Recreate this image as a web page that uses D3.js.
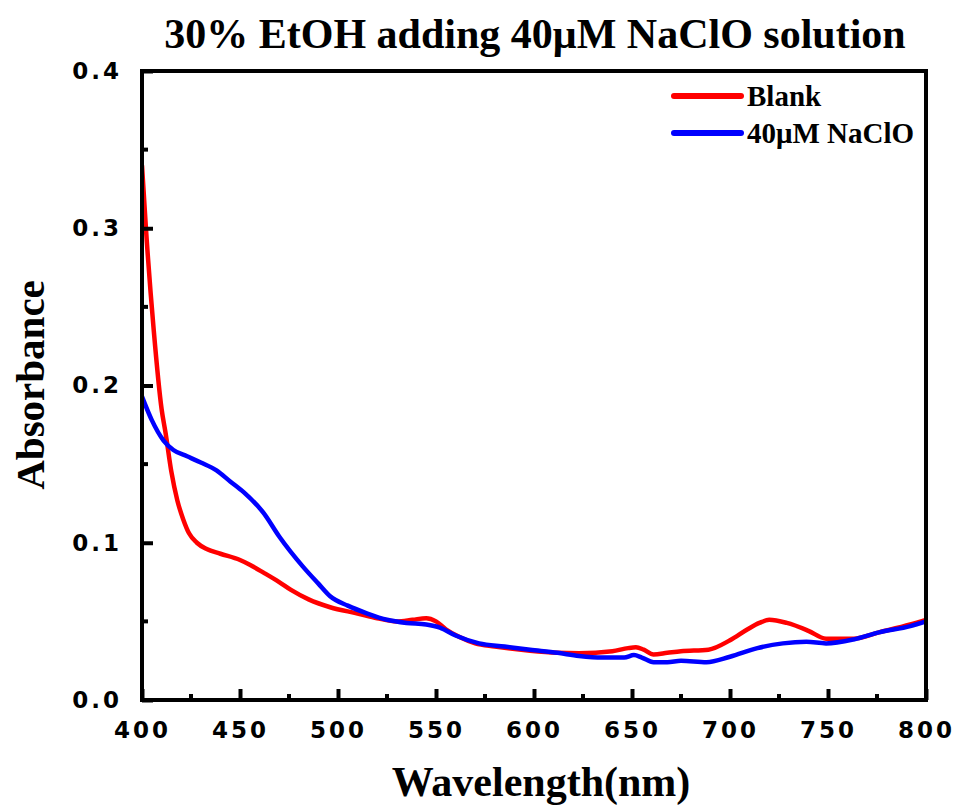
<!DOCTYPE html>
<html>
<head>
<meta charset="utf-8">
<script src="https://cdn.jsdelivr.net/npm/d3@7"></script>
<style>
  body { margin: 0; background: #fff; }
  .tick text { font-family: "DejaVu Sans", sans-serif; font-weight: bold; }
</style>
</head>
<body>
<div id="chart"></div>
<script>
// Spectrum readings (wavelength nm, absorbance)
var blankWl = [400, 402, 406, 410, 412, 415, 418, 421, 424, 428, 433, 440, 450, 455, 462, 470, 476, 485, 496, 510, 520, 530, 538, 545, 550, 555, 562, 570, 580, 598, 612, 623, 640, 648, 652, 656, 661, 668, 675, 689, 700, 709, 715, 720, 729, 740, 749, 763, 776, 792, 800];
var blankAbs = [0.340, 0.300, 0.235, 0.185, 0.170, 0.145, 0.127, 0.115, 0.106, 0.100, 0.096, 0.093, 0.089, 0.086, 0.081, 0.075, 0.070, 0.064, 0.059, 0.055, 0.052, 0.050, 0.051, 0.052, 0.050, 0.045, 0.040, 0.036, 0.034, 0.0313, 0.030, 0.0297, 0.031, 0.033, 0.0335, 0.032, 0.029, 0.030, 0.031, 0.032, 0.038, 0.045, 0.049, 0.051, 0.049, 0.044, 0.039, 0.039, 0.043, 0.048, 0.051];

var naclWl = [400, 405, 411, 416, 423, 430, 438, 445, 452, 462, 470, 482, 490, 496, 505, 515, 525, 535, 545, 552, 560, 572, 585, 598, 612, 623, 635, 646, 651, 655, 661, 668, 675, 688, 700, 714, 727, 739, 749, 763, 776, 792, 800];
var naclAbs = [0.193, 0.178, 0.165, 0.159, 0.155, 0.151, 0.146, 0.139, 0.132, 0.119, 0.104, 0.085, 0.074, 0.066, 0.060, 0.055, 0.051, 0.049, 0.048, 0.046, 0.041, 0.036, 0.034, 0.032, 0.030, 0.028, 0.027, 0.027, 0.0286, 0.027, 0.024, 0.024, 0.025, 0.024, 0.0275, 0.033, 0.036, 0.037, 0.036, 0.0385, 0.043, 0.047, 0.050];

var seriesNames = ["Blank", "40μM NaClO"];
var seriesColors = ["#ff0000", "#0000ff"];
var xTicks = [400, 450, 500, 550, 600, 650, 700, 750, 800];
var yTicks = [0.0, 0.1, 0.2, 0.3, 0.4];

var W = 958, H = 807;
var m = {top: 71, right: 32, bottom: 107, left: 142};
var w = W - m.left - m.right, h = H - m.top - m.bottom;

var svg = d3.select("#chart").append("svg")
  .attr("width", W)
  .attr("height", H);

var g = svg.append("g").attr("transform", "translate(" + m.left + "," + m.top + ")");

var x = d3.scaleLinear().domain([400, 800]).range([0, w]);
var y = d3.scaleLinear().domain([0, 0.4]).range([h, 0]);

function zip(a, b) { return a.map(function(v, i) { return {x: v, y: b[i]}; }); }
var data = [zip(blankWl, blankAbs), zip(naclWl, naclAbs)];

var line = d3.line()
  .x(function(d) { return x(d.x); })
  .y(function(d) { return y(d.y); })
  .curve(d3.curveMonotoneX);

g.append("defs").append("clipPath").attr("id", "clip")
  .append("rect").attr("width", w).attr("height", h);

data.forEach(function(d, i) {
  g.append("path")
    .datum(d)
    .attr("d", line)
    .attr("clip-path", "url(#clip)")
    .style("fill", "none")
    .style("stroke", seriesColors[i])
    .style("stroke-width", 4.5)
    .style("stroke-linejoin", "round");
});

// Minor ticks
g.append("g").selectAll("line")
  .data(d3.range(425, 800, 50))
  .enter().append("line")
  .attr("x1", function(d) { return x(d); }).attr("x2", function(d) { return x(d); })
  .attr("y1", h).attr("y2", h - 6)
  .style("stroke", "#000").style("stroke-width", 4);
g.append("g").selectAll("line")
  .data([0.05, 0.15, 0.25, 0.35])
  .enter().append("line")
  .attr("y1", function(d) { return y(d); }).attr("y2", function(d) { return y(d); })
  .attr("x1", 0).attr("x2", 6)
  .style("stroke", "#000").style("stroke-width", 4);

// Axes
var xAxis = g.append("g")
  .attr("transform", "translate(0," + h + ")")
  .call(d3.axisBottom(x).tickValues(xTicks).tickSizeInner(-11).tickSizeOuter(0).tickPadding(22));
var yAxis = g.append("g")
  .call(d3.axisLeft(y).tickValues(yTicks).tickSizeInner(-11).tickSizeOuter(0).tickPadding(20)
    .tickFormat(d3.format(".1f")));

[xAxis, yAxis].forEach(function(a) {
  a.select(".domain").remove();
  a.selectAll(".tick line").style("stroke", "#000").style("stroke-width", 4);
  a.selectAll(".tick text").style("font-size", "23px").style("fill", "#000")
    .style("letter-spacing", "3px");
});

// Frame
g.append("rect")
  .attr("width", w).attr("height", h)
  .style("fill", "none").style("stroke", "#000").style("stroke-width", 4);

// Legend
var legend = g.append("g").attr("transform", "translate(" + (w - 255) + ",25)");
seriesNames.forEach(function(name, i) {
  var row = legend.append("g").attr("transform", "translate(0," + (i * 37) + ")");
  row.append("line")
    .attr("x1", 3).attr("x2", 70)
    .style("stroke", seriesColors[i]).style("stroke-width", 6).style("stroke-linecap", "round");
  row.append("text")
    .attr("x", 76).attr("y", 10)
    .style("font-family", "'Liberation Serif', 'Times New Roman', serif")
    .style("font-weight", "bold").style("font-size", "29px")
    .text(name);
});

// Titles
svg.append("text")
  .attr("x", 535).attr("y", 48)
  .attr("text-anchor", "middle")
  .style("font-family", "'Liberation Serif', 'Times New Roman', serif")
  .style("font-weight", "bold").style("font-size", "42px")
  .text("30% EtOH adding 40μM NaClO solution");

svg.append("text")
  .attr("x", 541).attr("y", 796)
  .attr("text-anchor", "middle")
  .style("font-family", "'Liberation Serif', 'Times New Roman', serif")
  .style("font-weight", "bold").style("font-size", "42px")
  .text("Wavelength(nm)");

svg.append("text")
  .attr("transform", "translate(44,385) rotate(-90)")
  .attr("text-anchor", "middle")
  .style("font-family", "'Liberation Serif', 'Times New Roman', serif")
  .style("font-weight", "bold").style("font-size", "41px")
  .text("Absorbance");
</script>
</body>
</html>
